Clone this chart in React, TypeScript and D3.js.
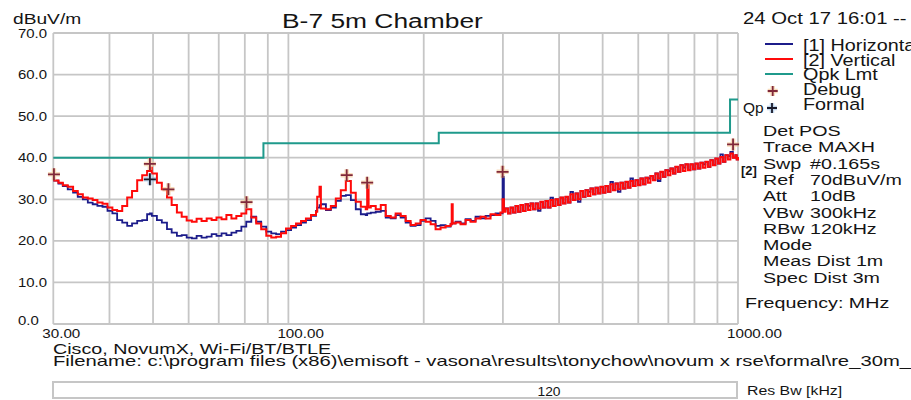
import React from "react";
import * as d3 from "d3";

// ---------- data ----------
const freqs = [
  30, 30.8, 31.5, 32.3, 33.2, 34, 34.9, 35.8, 36.7, 37.6,
  38.6, 39.6, 40.6, 41.6, 42.7, 43.8, 44.9, 46.1, 47.3, 48.5,
  49.2, 49.7, 51, 52.3, 53.7, 55, 56.5, 57.9, 59.4, 61,
  62.5, 64.1, 65.8, 67.5, 69.2, 71, 72.8, 74.7, 76.6, 78.6,
  80.6, 82.7, 84.8, 87, 89.3, 91.6, 93.9, 96.3, 98.8, 101.4,
  104, 106.7, 109.4, 112.3, 115.2, 115.9, 117.3, 118.1, 121.2, 124.3,
  127.5, 130.8, 134.2, 137.7, 141.2, 144.9, 148.6, 149.7, 150.8, 152.5,
  156.4, 160.5, 164.6, 168.9, 173.2, 177.7, 182.3, 187, 191.9, 196.8,
  201.9, 207.2, 212.5, 218, 223.7, 229.5, 230.8, 232, 235.4, 241.5,
  247.8, 254.2, 260.8, 267.5, 274.5, 281.6, 288.9, 296.3, 299.5, 301.5,
  304, 307.9, 311.9, 315.9, 320, 324.1, 328.3, 332.5, 336.8, 341.2,
  345.6, 350, 354.5, 359.1, 363.7, 368.4, 373.1, 377.9, 382.8, 387.7,
  392.7, 397.8, 402.9, 408.1, 413.3, 418.6, 424, 429.5, 435, 440.6,
  446.3, 452.1, 457.9, 463.8, 469.7, 475.8, 481.9, 488.1, 494.4, 500.8,
  507.2, 513.7, 520.3, 527, 533.8, 540.7, 547.7, 554.8, 561.9, 569.1,
  576.4, 583.9, 591.4, 599, 606.7, 614.5, 622.4, 630.5, 638.6, 646.8,
  655.1, 663.5, 672.1, 680.7, 689.5, 698.4, 707.4, 716.5, 725.7, 735,
  744.5, 754.1, 763.8, 773.7, 783.6, 793.7, 803.9, 814.3, 824.8, 835.5,
  846.2, 857.1, 868.1, 879.3, 890.6, 902.1, 913.7, 925.5, 937.4, 949.5,
  961.7, 974.1, 986.6, 993.3, 1000,
];

const horizontal = [
  34.5, 33.8, 33.2, 32.4, 31.6, 30.6, 30.0, 29.2, 28.8, 28.4,
  28.2, 27.2, 26.6, 25.0, 24.4, 23.6, 24.2, 24.8, 25.0, 26.4,
  26.6, 26.0, 25.0, 24.4, 22.8, 22.0, 21.2, 21.4, 20.8, 20.6,
  21.2, 20.8, 21.0, 21.6, 21.2, 21.8, 21.4, 22.0, 22.4, 23.4,
  24.6, 25.8, 24.6, 23.4, 22.2, 21.8, 21.6, 22.2, 22.6, 23.2,
  23.8, 24.4, 25.0, 26.0, 27.2, 28.0, 28.6, 28.8, 27.4, 28.0,
  29.6, 30.8, 31.0, 29.8, 27.6, 26.4, 26.2, 26.6, 26.6, 26.8,
  27.0, 27.2, 25.6, 25.4, 26.2, 25.6, 24.4, 23.6, 23.8, 24.8,
  25.4, 24.8, 23.6, 23.8, 23.4, 24.0, 24.4, 24.2, 24.6, 24.2,
  25.2, 24.8, 25.8, 25.4, 26.0, 26.2, 26.6, 26.6, 35.4, 27.2,
  27.8, 26.6, 28.0, 26.8, 28.4, 27.0, 28.6, 27.2, 28.8, 28.4,
  29.0, 27.6, 29.0, 27.2, 29.4, 28.0, 29.6, 28.0, 30.4, 28.4,
  30.0, 28.6, 30.4, 29.0, 30.6, 29.2, 31.8, 29.8, 31.4, 29.4,
  32.0, 30.6, 32.2, 31.8, 32.6, 31.2, 32.8, 31.4, 33.0, 31.6,
  33.2, 31.8, 34.2, 32.2, 33.8, 31.8, 34.0, 32.6, 34.2, 32.8,
  35.0, 33.2, 34.6, 33.4, 35.0, 33.6, 35.2, 35.0, 35.6, 34.6,
  36.2, 34.4, 36.6, 35.4, 37.0, 36.8, 37.4, 36.2, 37.8, 36.6,
  38.2, 37.6, 38.4, 37.0, 38.4, 37.2, 38.6, 37.4, 38.8, 38.4,
  39.0, 37.8, 39.4, 38.2, 39.8, 38.6, 40.8, 39.0, 40.6, 40.4,
  41.4, 40.0, 40.6, 39.6, 40.2,
];

const vertical = [
  34.5, 34.0, 33.4, 33.0, 32.0, 31.2, 30.4, 30.2, 29.8, 29.2,
  28.9, 28.0, 27.4, 27.2, 28.4, 30.4, 32.0, 34.6, 35.8, 36.8,
  37.6, 36.2, 34.0, 32.4, 30.4, 28.6, 26.8, 25.8, 24.9, 24.6,
  25.3, 24.8, 25.4, 25.0, 25.6, 25.2, 26.2, 25.4, 26.0, 26.6,
  27.6, 25.6, 24.2, 22.8, 21.2, 20.8, 21.0, 21.8, 23.0, 23.6,
  24.2, 24.8, 25.4, 26.2, 27.0, 30.6, 33.0, 27.8, 27.6, 28.4,
  30.2, 32.2, 34.4, 31.6, 29.4, 28.2, 27.6, 33.4, 28.0, 28.4,
  27.6, 28.6, 26.0, 25.6, 26.6, 26.0, 24.8, 23.8, 24.2, 25.0,
  24.6, 24.0, 22.8, 23.2, 23.6, 24.0, 28.8, 24.2, 24.4, 24.0,
  25.0, 24.6, 25.4, 25.8, 25.4, 26.4, 26.2, 26.8, 30.0, 27.0,
  27.8, 26.6, 28.0, 26.8, 28.4, 27.0, 28.6, 27.2, 28.8, 27.4,
  29.0, 27.6, 29.0, 27.8, 29.4, 28.0, 29.6, 28.0, 29.8, 28.4,
  30.0, 28.6, 30.4, 29.0, 30.6, 29.2, 31.2, 29.8, 31.4, 30.0,
  32.0, 30.6, 32.2, 30.8, 32.6, 31.2, 32.8, 31.4, 33.0, 31.6,
  33.2, 31.8, 33.6, 32.2, 33.8, 32.4, 34.0, 32.6, 34.2, 32.8,
  34.4, 33.2, 34.6, 33.4, 35.0, 33.6, 35.2, 34.0, 35.6, 34.6,
  36.2, 35.0, 36.6, 35.4, 37.0, 35.8, 37.4, 36.2, 37.8, 36.6,
  38.2, 36.8, 38.4, 37.0, 38.4, 37.2, 38.6, 37.4, 38.8, 37.6,
  39.0, 37.8, 39.4, 38.2, 39.8, 38.6, 40.2, 39.0, 40.6, 39.6,
  41.0, 40.0, 40.6, 39.6, 40.2,
];

const limitFreqs = [30, 88, 216, 960, 1000];
const limitLevels = [40, 43.5, 46, 54, 54];

const debugFreqs = [30.1, 49.2, 54.1, 80.7, 134.8, 149.7, 299.5, 975];
const debugLevels = [36.0, 38.5, 32.4, 29.3, 35.8, 34.0, 36.6, 43.2];
const formalFreqs = [49.2];
const formalLevels = [34.8];

const yTicks = [0, 10, 20, 30, 40, 50, 60, 70];
const xGridFreqs = [30, 40, 50, 60, 70, 80, 90, 100, 200, 300, 400, 500, 600, 700, 800, 900, 1000];
const xLabelFreqs = [30, 100, 1000];

const legendLabels = ["[1] Horizontal", "[2] Vertical", "Qpk Lmt", "Debug", "Formal"];
const infoLabels = ["Det POS", "Trace MAXH", "Swp", "Ref", "Att", "VBw", "RBw", "Mode", "Meas Dist 1m", "Spec Dist 3m"];
const infoValues = ["", "", "#0.165s", "70dBuV/m", "10dB", "300kHz", "120kHz", "", "", ""];

const titleText = "B-7 5m Chamber";
const dateText = "24 Oct 17 16:01 --";
const unitText = "dBuV/m";
const descText = "Cisco, NovumX, Wi-Fi/BT/BTLE";
const fileText = "Filename: c:\\program files (x86)\\emisoft - vasona\\results\\tonychow\\novum x rse\\formal\\re_30m_";
const resBwValue = "120";

// ---------- styles ----------
const FONT = "'Liberation Sans', Arial, sans-serif";
const TXT = "#141414";
const GRID = "#c6c6c6";
const NAVY = "#1c1c8a";
const RED = "#ff0a0a";
const TEAL = "#1f9a8c";
const MAROON = "#80283a";

function T({ x, y, size, sx = 1, anchor = "start", weight = "normal", fill = TXT, children }: any) {
  return (
    <text
      transform={`translate(${x},${y}) scale(${sx},1)`}
      fontSize={size}
      fontFamily={FONT}
      fontWeight={weight}
      textAnchor={anchor}
      fill={fill}
    >
      {children}
    </text>
  );
}

function Plus({ cx, cy, r, color, halo }: any) {
  const d = `M${cx - r},${cy}H${cx + r}M${cx},${cy - r}V${cy + r}`;
  return (
    <g>
      <path d={d} stroke={halo} strokeWidth={4.5} strokeOpacity={0.55} />
      <path d={d} stroke={color} strokeWidth={1.8} />
    </g>
  );
}

export default function App() {
  const left = 53.3, right = 738, top = 33, bottom = 324;
  const x = d3.scaleLog().domain([30, 1000]).range([left, right]);
  const y = d3.scaleLinear().domain([0, 70]).range([bottom, top]);

  const trace = d3
    .line<number>()
    .x((_, i) => x(freqs[i]))
    .y((d) => y(d))
    .curve(d3.curveStepAfter);

  const limitPath = d3
    .line<number>()
    .x((_, i) => x(limitFreqs[i]))
    .y((d) => y(d))
    .curve(d3.curveStepAfter)(limitLevels) as string;

  const legendX = 803;
  const legendBase = 51;
  const legendStep = 14.7;
  const infoX = 763;
  const infoValX = 810;
  const infoBase = 136;
  const infoStep = 16.3;

  return (
    <svg width={911} height={400} style={{ position: "absolute", left: 0, top: 0, background: "#fff" }}>
      <rect x={0} y={0} width={911} height={400} fill="#fff" />

      {/* grid */}
      <g stroke={GRID} strokeWidth={1.8} fill="none">
        {yTicks.map((t) => (
          <line key={"h" + t} x1={left} x2={right} y1={y(t)} y2={y(t)} />
        ))}
        {xGridFreqs.map((f) => (
          <line key={"v" + f} x1={x(f)} x2={x(f)} y1={top} y2={bottom} />
        ))}
      </g>

      {/* limit */}
      <path d={limitPath} fill="none" stroke={TEAL} strokeWidth={2} />

      {/* traces */}
      <path d={trace(horizontal) as string} fill="none" stroke={NAVY} strokeWidth={1.8} />
      <path d={trace(vertical) as string} fill="none" stroke={RED} strokeWidth={2} />

      {/* markers */}
      {debugFreqs.map((f, i) => (
        <Plus key={"d" + i} cx={x(f)} cy={y(debugLevels[i])} r={6} color={MAROON} halo="#f2bf86" />
      ))}
      {formalFreqs.map((f, i) => (
        <Plus key={"f" + i} cx={x(f)} cy={y(formalLevels[i])} r={6} color="#1a1a2a" halo="#8fb8e0" />
      ))}

      {/* y labels */}
      {yTicks.map((t) => (
        <T key={"yl" + t} x={18} y={t === 0 ? y(t) + 1 : y(t) + 4.5} size={13} sx={1.15}>
          {t.toFixed(1)}
        </T>
      ))}
      {/* x labels */}
      {xLabelFreqs.map((f) => (
        <T key={"xl" + f} x={x(f) - 11} y={338} size={13} sx={1.17}>
          {f.toFixed(2)}
        </T>
      ))}

      {/* titles */}
      <T x={13} y={24} size={14} sx={1.37}>{unitText}</T>
      <T x={282} y={28} size={20} sx={1.32}>{titleText}</T>
      <T x={743} y={24} size={16} sx={1.27}>{dateText}</T>

      {/* legend */}
      <line x1={765} x2={793} y1={44} y2={44} stroke={NAVY} strokeWidth={2} />
      <line x1={765} x2={793} y1={59} y2={59} stroke={RED} strokeWidth={2} />
      <line x1={765} x2={793} y1={74} y2={74} stroke={TEAL} strokeWidth={2} />
      <Plus cx={772.7} cy={91} r={5} color={MAROON} halo="#f2bf86" />
      <Plus cx={772} cy={108} r={5} color="#1a1a2a" halo="#8fb8e0" />
      <T x={743} y={113} size={15.5}>Qp</T>
      {legendLabels.map((s, i) => (
        <T key={"lg" + i} x={legendX} y={legendBase + i * legendStep} size={16.5} sx={1.2}>
          {s}
        </T>
      ))}

      {/* info */}
      {infoLabels.map((s, i) => (
        <T key={"il" + i} x={infoX} y={infoBase + i * infoStep} size={15.5} sx={1.27}>
          {s}
        </T>
      ))}
      {infoValues.map((s, i) =>
        s ? (
          <T key={"iv" + i} x={infoValX} y={infoBase + i * infoStep} size={15.5} sx={1.27}>
            {s}
          </T>
        ) : null
      )}
      <T x={741} y={175} size={13} weight="bold">[2]</T>
      <T x={745} y={308} size={15.5} sx={1.27}>Frequency: MHz</T>

      {/* bottom */}
      <T x={53} y={354} size={14.5} sx={1.36}>{descText}</T>
      <text
        x={53}
        y={366}
        fontSize={14.5}
        fontFamily={FONT}
        fill={TXT}
        textLength={858}
        lengthAdjust="spacingAndGlyphs"
      >
        {fileText}
      </text>
      <rect x={53} y={382} width={684} height={16} fill="none" stroke={GRID} strokeWidth={2} />
      <T x={549} y={396} size={12} sx={1.15} anchor="middle">{resBwValue}</T>
      <T x={747} y={395} size={13} sx={1.22}>Res Bw [kHz]</T>
    </svg>
  );
}
